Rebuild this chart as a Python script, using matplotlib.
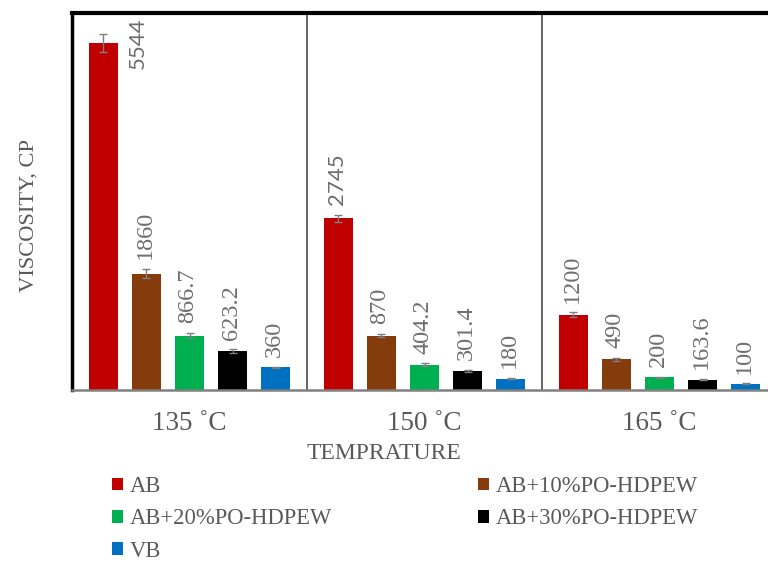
import matplotlib
matplotlib.use("Agg")
import matplotlib.pyplot as plt
import numpy as np

temps = ["135 ˚C", "150 ˚C", "165 ˚C"]
series = ["AB", "AB+10%PO-HDPEW", "AB+20%PO-HDPEW", "AB+30%PO-HDPEW", "VB"]
colors = ["#C00000", "#843C0C", "#00B050", "#000000", "#0070C0"]
values = [
    [5544, 2745, 1200],
    [1860, 870, 490],
    [866.7, 404.2, 200],
    [623.2, 301.4, 163.6],
    [360, 180, 100],
]
errors = [
    [140, 55, 40],
    [75, 30, 20],
    [40, 20, 12],
    [25, 15, 10],
    [15, 10, 8],
]
labels = [
    ["5544", "2745", "1200"],
    ["1860", "870", "490"],
    ["866.7", "404.2", "200"],
    ["623.2", "301.4", "163.6"],
    ["360", "180", "100"],
]

serif = ["Liberation Serif", "DejaVu Serif"]
sans = ["Lato", "DejaVu Sans"]
text_gray = "#595959"
label_gray = "#6e6e6e"

fig = plt.figure(figsize=(7.68, 5.61), dpi=100)
ax = fig.add_axes([72 / 768, 1 - 390 / 561, 705 / 768, 377 / 561])

x = np.arange(len(temps))
step = 0.183
width = 0.123
for i, name in enumerate(series):
    xs = x + (i - 2) * step
    ax.bar(xs, values[i], width, color=colors[i], label=name, zorder=2)
    ax.errorbar(xs, values[i], yerr=errors[i], fmt="none", ecolor="#7f7f7f",
                elinewidth=1, capsize=3, capthick=1, zorder=3)
    for j in range(len(temps)):
        top = values[i][j] + errors[i][j]
        if i == 0 and j < 2:
            fam, size = sans, 16
        else:
            fam, size = serif, 17.5
        if i == 0 and j == 0:
            # no room above the tallest bar, label sits beside it
            ax.annotate(labels[i][j], (xs[j], values[i][j]), xytext=(25, 0),
                        textcoords="offset points", rotation=90,
                        ha="center", va="center", fontsize=size,
                        family=fam, color=label_gray)
        else:
            ax.annotate(labels[i][j], (xs[j], top), xytext=(-1, 7),
                        textcoords="offset points", rotation=90,
                        ha="center", va="bottom", fontsize=size,
                        family=fam, color=label_gray)

ax.set_xlim(-0.5, 2.5)
ax.set_ylim(0, 6020)
for sep in [0.5, 1.5]:
    ax.axvline(sep, color="#595959", lw=1.3, zorder=1)

ax.set_yticks([])
ax.set_xticks(x)
ax.set_xticklabels(temps, family=serif, fontsize=19.5, color=text_gray)
ax.tick_params(axis="x", length=0, pad=15)

ax.spines["top"].set_linewidth(3)
ax.spines["top"].set_color("black")
ax.spines["left"].set_linewidth(2.5)
ax.spines["left"].set_color("black")
ax.spines["bottom"].set_linewidth(1.8)
ax.spines["bottom"].set_color("#808080")
ax.spines["right"].set_visible(False)

ax.set_xlabel("TEMPRATURE", family=serif, fontsize=17, color=text_gray)
ax.set_ylabel("VISCOSITY, CP", family=serif, fontsize=16.2, color=text_gray)
ax.xaxis.set_label_coords((384 - 72) / 705, -53 / 377)
ax.yaxis.set_label_coords((29 - 72) / 705, (390 - 216) / 377)
ax.yaxis.label.set_va("center")

handles, names = ax.get_legend_handles_labels()
order = [0, 2, 4, 1, 3]
leg = fig.legend([handles[k] for k in order], [names[k] for k in order],
                 loc="upper left", bbox_to_anchor=(112 / 768, 1 - 476 / 561),
                 ncol=2, frameon=False, handlelength=0.48, handleheight=0.48,
                 handletextpad=0.3, columnspacing=6.45, labelspacing=0.5,
                 borderaxespad=0, borderpad=0,
                 prop={"family": serif, "size": 16.3})
for t in leg.get_texts():
    t.set_color(text_gray)

fig.savefig("out.png", dpi=100)
